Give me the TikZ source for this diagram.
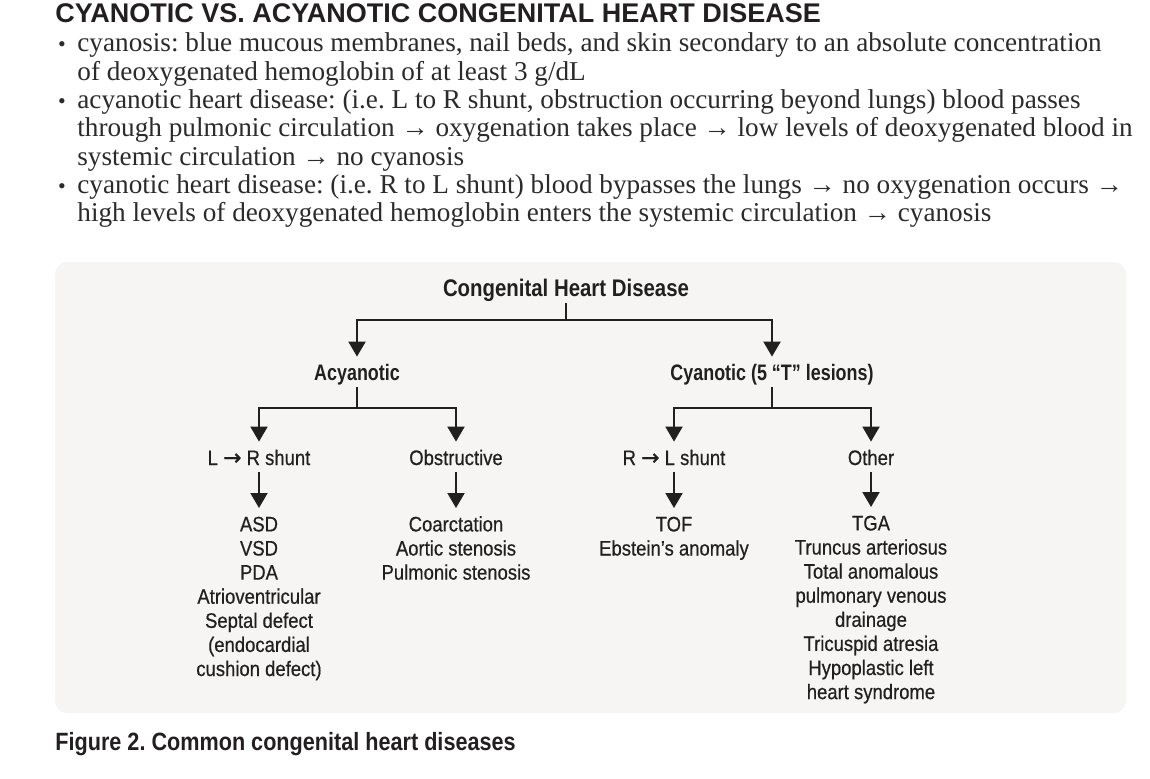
\documentclass[tikz,border=0pt]{standalone}
\usepackage{fontspec}
\setmainfont{Liberation Serif}
\newfontfamily\hdfont{Liberation Sans}
\newfontfamily\cdfont[FakeStretch=0.88,FakeBold=0.5]{Liberation Sans}
\newfontfamily\cbfont[FakeStretch=0.80]{Liberation Sans}
\newfontfamily\cbwide[FakeStretch=0.85]{Liberation Sans}
\newfontfamily\capfont[FakeStretch=0.865]{Liberation Sans}
\newfontfamily\arrfont[FakeBold=0.6]{DejaVu Sans}
\usetikzlibrary{arrows.meta}
\definecolor{ink}{HTML}{231F20}
\definecolor{bodyink}{HTML}{2B2B2B}
\definecolor{panel}{HTML}{F6F5F3}
\frenchspacing
\begin{document}
\begin{tikzpicture}[x=0.5pt,y=-0.5pt,
  body/.style={anchor=base west, inner sep=0, font=\frenchspacing\fontsize{13.6}{15}\selectfont, text=bodyink},
  bul/.style={anchor=base, inner sep=0, font=\fontsize{11}{12}\selectfont, text=bodyink},
  lvl/.style={anchor=base, inner xsep=0, inner ysep=0, text height=11.5pt, text depth=3.5pt, text=ink},
  head/.style={lvl, font=\cbfont\bfseries\fontsize{11.2}{13}\selectfont},
  sub/.style={lvl, font=\cdfont\fontsize{10.5}{12}\selectfont},
  lst/.style={anchor=north, inner sep=0, align=center, text=ink, font=\cdfont\fontsize{10.5}{12.05}\selectfont},
  conn/.style={draw=ink, line width=1pt, -{Triangle[width=8.5pt,length=7.5pt]}},
  plain/.style={draw=ink, line width=1pt}
]
\useasboundingbox (0,0) rectangle (1150,778);
\fill[white] (0,0) rectangle (1150,778);

% title
\node[anchor=base west, inner sep=0, text=ink, font=\hdfont\bfseries\fontsize{13.5}{16}\selectfont] (title) at (55,22) {CYANOTIC VS. ACYANOTIC CONGENITAL HEART DISEASE};

% bullets
\node[bul] (b1) at (62,51.7) {•};
\node[bul] (b2) at (62,108.3) {•};
\node[bul] (b3) at (62,193.3) {•};

\node[body] (t1) at (77,51.7) {cyanosis: blue mucous membranes, nail beds, and skin secondary to an absolute concentration};
\node[body] (t2) at (77,80) {of deoxygenated hemoglobin of at least 3 g/dL};
\node[body] (t3) at (77,108.3) {acyanotic heart disease: (i.e. L to R shunt, obstruction occurring beyond lungs) blood passes};
\node[body] (t4) at (77,136.7) {through pulmonic circulation → oxygenation takes place → low levels of deoxygenated blood in};
\node[body] (t5) at (77,165) {systemic circulation → no cyanosis};
\node[body] (t6) at (77,193.3) {cyanotic heart disease: (i.e. R to L shunt) blood bypasses the lungs → no oxygenation occurs →};
\node[body] (t7) at (77,221.7) {high levels of deoxygenated hemoglobin enters the systemic circulation → cyanosis};

% panel
\fill[panel, rounded corners=6pt] (55,262) rectangle (1126,713);

% tree
\node[lvl, font=\cbwide\bfseries\fontsize{12}{14}\selectfont] (chd) at (566,296) {Congenital Heart Disease};
\node[head] (acy) at (357,380) {Acyanotic};
\node[head] (cya) at (772,380) {Cyanotic (5 “T” lesions)};
\node[sub] (lr) at (259,465) {L {\arrfont\fontsize{11}{12}\selectfont →} R shunt};
\node[sub] (obs) at (456,465) {Obstructive};
\node[sub] (rl) at (674,465) {R {\arrfont\fontsize{11}{12}\selectfont →} L shunt};
\node[sub] (oth) at (871,465) {Other};

\node[lst] (l1) at (259,508) {\rule{0pt}{11.5pt}ASD\\VSD\\PDA\\Atrioventricular\\Septal defect\\(endocardial\\cushion defect)};
\node[lst] (l2) at (456,508) {\rule{0pt}{11.5pt}Coarctation\\Aortic stenosis\\Pulmonic stenosis};
\node[lst] (l3) at (674,508) {\rule{0pt}{11.5pt}TOF\\Ebstein’s anomaly};
\node[lst] (l4) at (871,507) {\rule{0pt}{11.5pt}TGA\\Truncus arteriosus\\Total anomalous\\pulmonary venous\\drainage\\Tricuspid atresia\\Hypoplastic left\\heart syndrome};

\coordinate (bar1) at (0,320);
\coordinate (bar2) at (0,408);

\draw[plain] (chd.south) -- (chd.south |- bar1);
\draw[conn] (chd.south |- bar1) -| (acy.north);
\draw[conn] (chd.south |- bar1) -| (cya.north);
\draw[plain] (acy.south) -- (acy.south |- bar2);
\draw[conn] (acy.south |- bar2) -| (lr.north);
\draw[conn] (acy.south |- bar2) -| (obs.north);
\draw[plain] (cya.south) -- (cya.south |- bar2);
\draw[conn] (cya.south |- bar2) -| (rl.north);
\draw[conn] (cya.south |- bar2) -| (oth.north);
\draw[conn] (lr.south) -- (l1.north);
\draw[conn] (obs.south) -- (l2.north);
\draw[conn] (rl.south) -- (l3.north);
\draw[conn] (oth.south) -- (l4.north);

% caption
\node[anchor=base west, inner sep=0, text=ink, font=\capfont\bfseries\fontsize{12.5}{14}\selectfont] (cap) at (55,750) {Figure 2. Common congenital heart diseases};
\end{tikzpicture}
\end{document}
